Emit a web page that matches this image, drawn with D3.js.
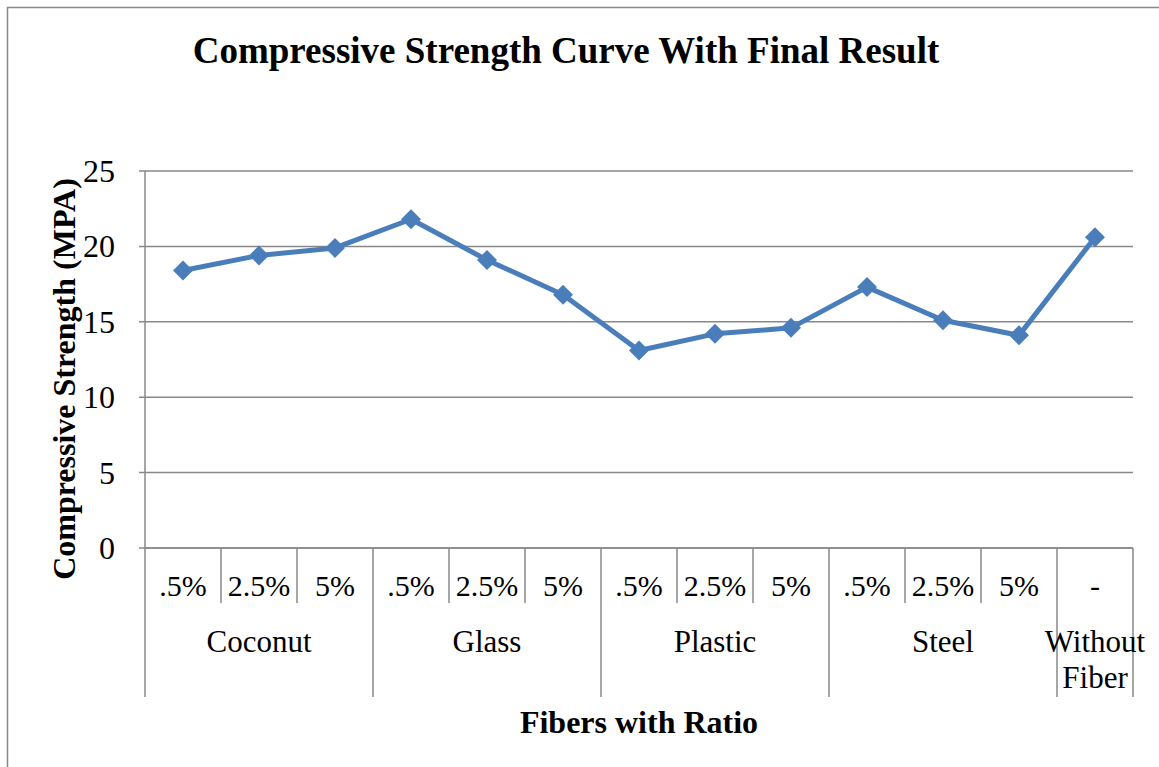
<!DOCTYPE html>
<html><head><meta charset="utf-8">
<script src="https://cdn.jsdelivr.net/npm/d3@7"></script>
<style>body{margin:0;background:#fff}svg{display:block}</style>
</head><body>
<script>
const groups = ["Coconut","Glass","Plastic","Steel","Without Fiber"];
const groupSizes = [3,3,3,3,1];
const subLabels = [".5%","2.5%","5%",".5%","2.5%","5%",".5%","2.5%","5%",".5%","2.5%","5%","-"];
const values = [18.4,19.4,19.9,21.8,19.1,16.8,13.1,14.2,14.6,17.3,15.1,14.1,20.6];
const yTicks = [0,5,10,15,20,25];

const FONT="Liberation Serif, Times New Roman, Times, DejaVu Serif, serif";
const W=1159,H=767;
const svg=d3.select("body").append("svg").attr("width",W).attr("height",H).attr("font-family",FONT);
svg.append("rect").attr("x",7.5).attr("y",7.5).attr("width",W+10).attr("height",H+10)
  .attr("fill","none").attr("stroke","#888").attr("stroke-width",1.5);

const L=145,R=1133,T=171,B=548;
const ids=d3.range(values.length);
const x=d3.scaleBand().domain(ids).range([L,R]).padding(0);
const y=d3.scaleLinear().domain([0,25]).range([B,T]);

svg.append("g").selectAll("line").data(yTicks).join("line")
  .attr("x1",L-6).attr("x2",R).attr("y1",d=>y(d)).attr("y2",d=>y(d))
  .attr("stroke","#888").attr("stroke-width",1.5);
svg.append("line").attr("x1",L).attr("x2",L).attr("y1",T).attr("y2",B).attr("stroke","#888").attr("stroke-width",1.5);
svg.append("g").selectAll("text").data(yTicks).join("text").attr("font-family",FONT)
  .attr("x",115).attr("y",d=>y(d)+11).attr("text-anchor","end").attr("font-size",32).text(d=>d);

const sub=svg.append("g");
sub.selectAll("text").data(ids).join("text").attr("font-family",FONT)
  .attr("x",d=>x(d)+x.bandwidth()/2).attr("y",596).attr("text-anchor","middle").attr("font-size",30)
  .text(d=>subLabels[d]);
const bounds=[0];groupSizes.forEach(s=>bounds.push(bounds[bounds.length-1]+s));
sub.selectAll("line.t").data(d3.range(values.length+1).filter(i=>!bounds.includes(i))).join("line")
  .attr("x1",i=>L+i*x.bandwidth()).attr("x2",i=>L+i*x.bandwidth()).attr("y1",B).attr("y2",603)
  .attr("stroke","#888").attr("stroke-width",1.5);
sub.selectAll("line.g").data(bounds).join("line")
  .attr("x1",i=>L+i*x.bandwidth()).attr("x2",i=>L+i*x.bandwidth()).attr("y1",B).attr("y2",697)
  .attr("stroke","#888").attr("stroke-width",1.5);
const gt=sub.selectAll("text.g").data(groups).join("text").attr("class","g").attr("font-family",FONT)
  .attr("text-anchor","middle").attr("font-size",31)
  .attr("x",(d,i)=>L+(bounds[i]+bounds[i+1])/2*x.bandwidth()).attr("y",652);
gt.each(function(d,i){
  const el=d3.select(this);
  if(d==="Without Fiber"){
    const cx=L+(bounds[i]+bounds[i+1])/2*x.bandwidth();
    el.append("tspan").attr("x",cx).attr("dy",0).text("Without");
    el.append("tspan").attr("x",cx).attr("dy",36).text("Fiber");
  } else el.text(d);
});
svg.append("line").attr("x1",L).attr("x2",R).attr("y1",B).attr("y2",B).attr("stroke","#888").attr("stroke-width",1.5);

const col="#4a7ebb";
svg.append("path").datum(ids).attr("fill","none").attr("stroke",col).attr("stroke-width",5).attr("stroke-linejoin","round")
  .attr("d",d3.line().x(i=>x(i)+x.bandwidth()/2).y(i=>y(values[i])));
svg.append("g").selectAll("path").data(ids).join("path")
  .attr("transform",i=>`translate(${x(i)+x.bandwidth()/2},${y(values[i])})`)
  .attr("d","M0,-10L10,0L0,10L-10,0Z").attr("fill",col);

svg.append("text").attr("font-family",FONT).attr("x",566).attr("y",63).attr("text-anchor","middle").attr("font-size",37).attr("font-weight","bold")
  .text("Compressive Strength Curve With Final Result");
svg.append("text").attr("font-family",FONT).attr("x",639).attr("y",733).attr("text-anchor","middle").attr("font-size",32).attr("font-weight","bold")
  .text("Fibers with Ratio");
svg.append("text").attr("font-family",FONT).attr("transform","translate(75,379) rotate(-90)").attr("text-anchor","middle").attr("font-size",32).attr("font-weight","bold")
  .text("Compressive Strength (MPA)");
</script>
</body></html>
